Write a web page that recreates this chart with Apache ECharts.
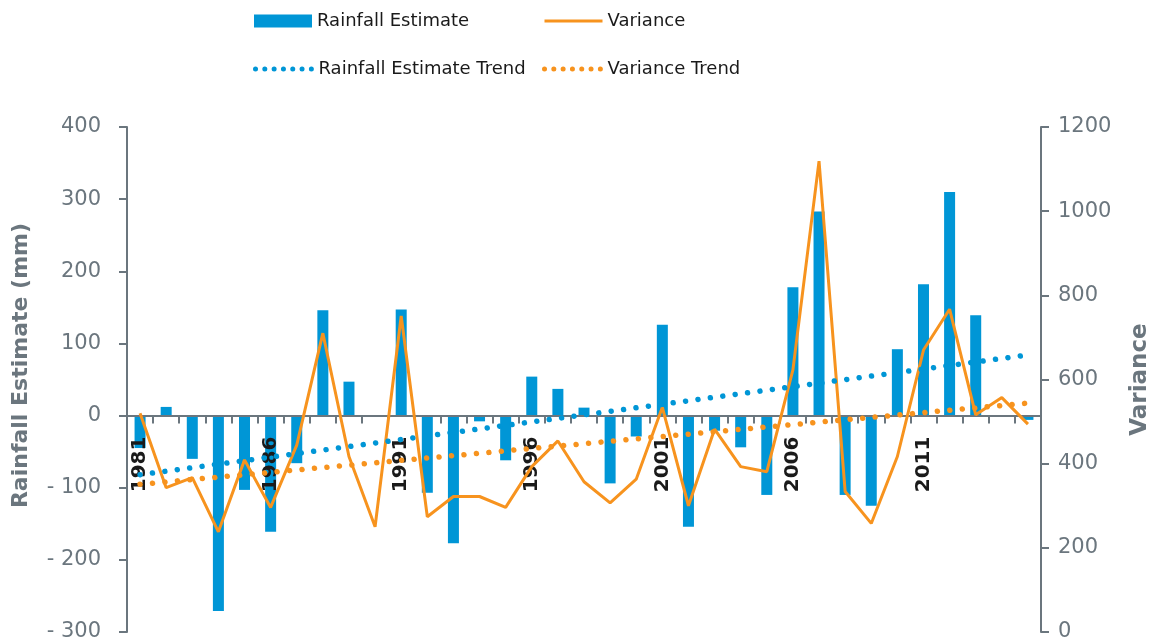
<!DOCTYPE html>
<html>
<head>
<meta charset="utf-8">
<script src="https://cdn.jsdelivr.net/npm/echarts@6/dist/echarts.min.js"></script>
<style>
  html, body { margin: 0; padding: 0; background: #fff; }
  #chart { width: 1152px; height: 643px; }
</style>
</head>
<body>
<div id="chart"></div>
<script>
// years 1981 - 2015
const years = ['1981', '1982', '1983', '1984', '1985', '1986', '1987', '1988', '1989', '1990',
  '1991', '1992', '1993', '1994', '1995', '1996', '1997', '1998', '1999', '2000',
  '2001', '2002', '2003', '2004', '2005', '2006', '2007', '2008', '2009', '2010',
  '2011', '2012', '2013', '2014', '2015']

// rainfall anomaly (mm), left axis
const rainfall = [-45, 12, -60, -271, -103, -161, -66, 146, 47, 0,
  147, -107, -177, -8, -62, 54, 37, 11, -94, -29,
  126, -154, -21, -44, -110, 178, 283, -110, -125, 92,
  182, 310, 139, 0, -6]

// variance, right axis
const variance = [520, 343, 367, 238, 409, 296, 444, 710, 417, 250,
  751, 274, 322, 322, 296, 393, 454, 357, 307, 363,
  534, 300, 482, 393, 381, 623, 1119, 334, 258, 417,
  670, 767, 516, 557, 494]

// linear trend end points
const trendYears = ['1981', '2015']
const rainfallTrend = [-82, 84]
const varianceTrend = [351, 544]

const BLUE = '#0096d6'
const ORANGE = '#f7931e'
const GREY = '#6b767e'
const FONT = 'DejaVu Sans'

const GRID_TOP = 127
const GRID_BOTTOM = 11
const CHART_H = 643
const Y_MIN = -300
const Y_MAX = 400
// the year axis sits on the zero line; v6 keeps onZero labels at the grid edge,
// so shift the whole axis up instead
const plotH = CHART_H - GRID_TOP - GRID_BOTTOM
const zeroShift = plotH * (0 - Y_MIN) / (Y_MAX - Y_MIN)

const chart = echarts.init(document.getElementById('chart'))

const legendText = { fontFamily: FONT, fontSize: 18, color: '#1a1a1a' }
const legendBase = {
  orient: 'horizontal',
  itemWidth: 58,
  itemHeight: 13,
  itemGap: 0,
  itemTextGap: 6,
  padding: 0,
  selectedMode: false,
  textStyle: legendText
}
// line legends: hide the symbol drawn in the middle of the line
const lineLegend = Object.assign({}, legendBase, { itemStyle: { opacity: 0 } })
const dotLegend = { width: 5, type: [0.01, 9.3], cap: 'round' }

const option = {
  animation: false,
  legend: [
    Object.assign({}, legendBase, { left: 254, top: 12, icon: 'rect', data: ['Rainfall Estimate'] }),
    Object.assign({}, lineLegend, { left: 543, top: 12, lineStyle: { width: 3 }, data: ['Variance'] }),
    Object.assign({}, lineLegend, { left: 253, top: 60, lineStyle: dotLegend, data: ['Rainfall Estimate Trend'] }),
    Object.assign({}, lineLegend, { left: 542, top: 60, lineStyle: dotLegend, data: ['Variance Trend'] })
  ],
  grid: {
    left: 127,
    right: 111,
    top: GRID_TOP,
    bottom: GRID_BOTTOM,
    containLabel: false,
    outerBoundsMode: 'none'
  },
  xAxis: {
    type: 'category',
    data: years,
    boundaryGap: true,
    offset: -zeroShift,
    z: 2.5, // year labels above the bars, below the lines
    axisLine: { onZero: false, lineStyle: { color: GREY, width: 2 } },
    axisTick: { show: true, interval: 0, length: 8, lineStyle: { color: GREY, width: 2 } },
    axisLabel: {
      interval: 4,
      rotate: 90,
      margin: 21,
      fontFamily: FONT,
      fontSize: 20,
      fontWeight: 'bold',
      color: '#1a1a1a'
    },
    splitLine: { show: false }
  },
  yAxis: [
    {
      type: 'value',
      min: Y_MIN,
      max: Y_MAX,
      interval: 100,
      name: 'Rainfall Estimate (mm)',
      nameLocation: 'middle',
      nameRotate: 90,
      nameGap: 95,
      nameTextStyle: { fontFamily: FONT, fontSize: 22, fontWeight: 'bold', color: GREY, padding: [0, 0, 0, 28] },
      axisLine: { show: true, lineStyle: { color: GREY, width: 2 } },
      axisTick: { show: true, length: 8, lineStyle: { color: GREY, width: 2 } },
      axisLabel: {
        margin: 26,
        fontFamily: FONT,
        fontSize: 21,
        color: GREY,
        formatter: v => (v < 0 ? '- ' + (-v) : String(v))
      },
      splitLine: { show: false }
    },
    {
      type: 'value',
      min: 0,
      max: 1200,
      interval: 200,
      name: 'Variance',
      nameLocation: 'middle',
      nameRotate: 90,
      nameGap: 88,
      nameTextStyle: { fontFamily: FONT, fontSize: 23, fontWeight: 'bold', color: GREY },
      axisLine: { show: true, lineStyle: { color: GREY, width: 2 } },
      axisTick: { show: true, length: 8, lineStyle: { color: GREY, width: 2 } },
      axisLabel: {
        margin: 17,
        fontFamily: FONT,
        fontSize: 21,
        color: GREY,
        formatter: v => String(v)
      },
      splitLine: { show: false }
    }
  ],
  series: [
    {
      name: 'Rainfall Estimate',
      type: 'bar',
      yAxisIndex: 0,
      data: rainfall,
      barWidth: 11,
      itemStyle: { color: BLUE },
      z: 2
    },
    {
      name: 'Variance',
      type: 'line',
      yAxisIndex: 1,
      data: variance,
      symbol: 'none',
      lineStyle: { color: ORANGE, width: 3 },
      itemStyle: { color: ORANGE },
      z: 3
    },
    {
      name: 'Rainfall Estimate Trend',
      type: 'line',
      yAxisIndex: 0,
      data: trendYears.map((y, i) => [y, rainfallTrend[i]]),
      symbol: 'none',
      lineStyle: { color: BLUE, width: 5.5, type: [0.01, 12.5], cap: 'round' },
      itemStyle: { color: BLUE },
      z: 4
    },
    {
      name: 'Variance Trend',
      type: 'line',
      yAxisIndex: 1,
      data: trendYears.map((y, i) => [y, varianceTrend[i]]),
      symbol: 'none',
      lineStyle: { color: ORANGE, width: 5.5, type: [0.01, 12.5], cap: 'round' },
      itemStyle: { color: ORANGE },
      z: 4
    }
  ]
}

chart.setOption(option)
window.addEventListener('resize', () => chart.resize())
</script>
</body>
</html>
